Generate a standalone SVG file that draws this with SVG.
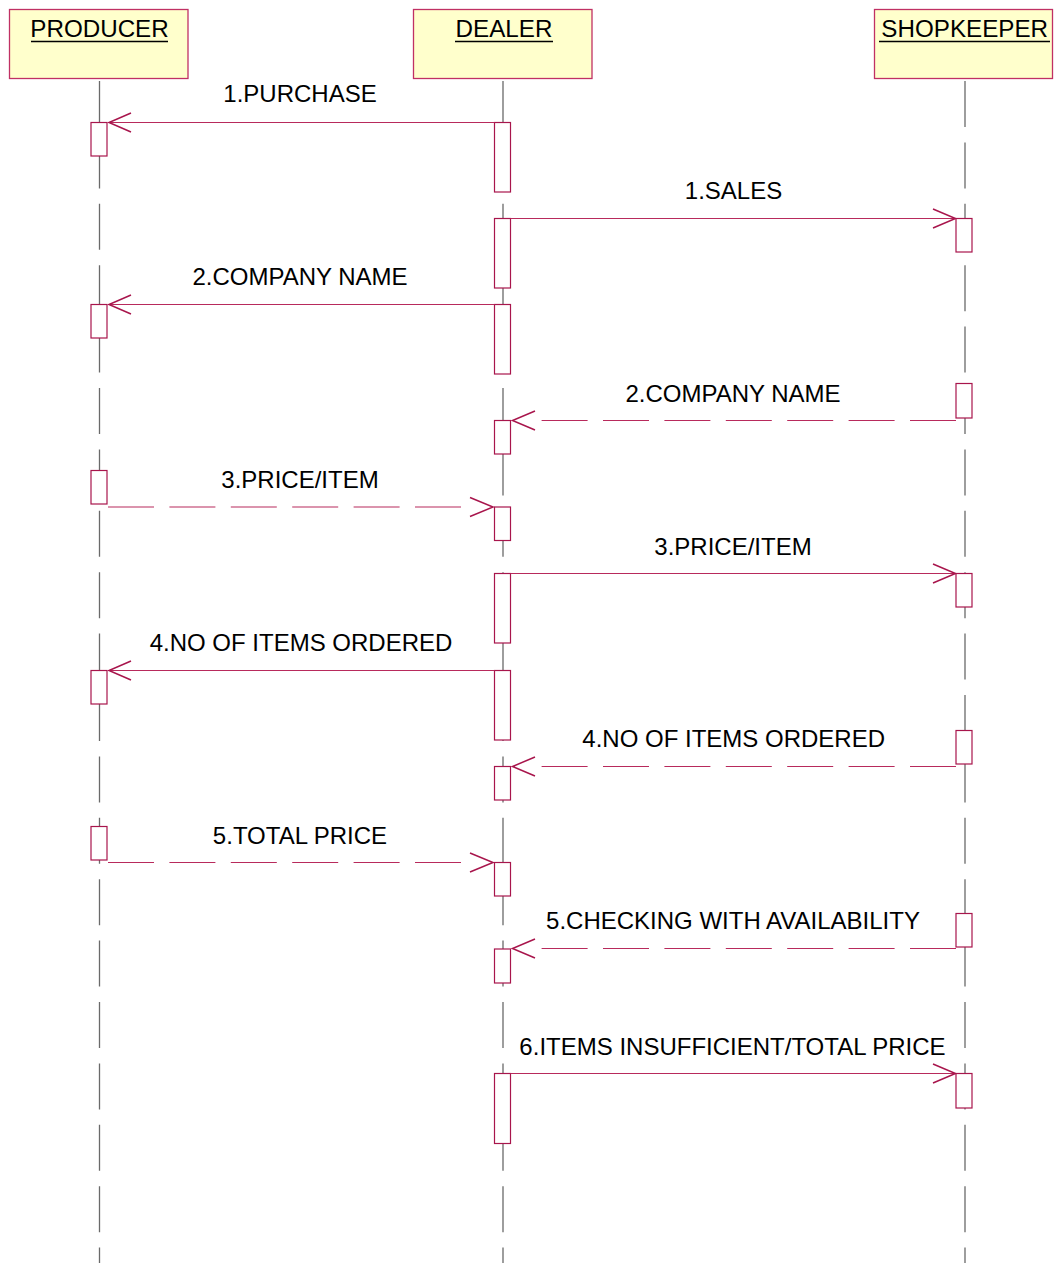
<svg xmlns="http://www.w3.org/2000/svg" width="1054" height="1263" viewBox="0 0 1054 1263">
<style>
.hdr{fill:#FFFFCC;stroke:#C03064;stroke-width:1.3}
.hl{font-family:"Liberation Sans",Arial,sans-serif;font-size:24.2px;fill:#000;text-anchor:middle}
.ul{stroke:#000;stroke-width:1.7}
.life{stroke:#6a6a6a;stroke-width:1.3;stroke-dasharray:46 15.4;fill:none}
.act{fill:#fff;stroke:#A8154C;stroke-width:1.2}
.msg{stroke:#B82A5C;stroke-width:1.2;fill:none}
.dash{stroke:#B82A5C;stroke-width:1.2;fill:none;stroke-dasharray:46 15.4}
.head{stroke:#A8154C;stroke-width:1.5;fill:none}
.lbl{font-family:"Liberation Sans",Arial,sans-serif;font-size:24px;fill:#000;text-anchor:middle}
</style>
<rect width="1054" height="1263" fill="#fff"/>
<g id="lifelines">
<line class="life" x1="99.5" y1="81" x2="99.5" y2="1263"/>
<line class="life" x1="503" y1="81" x2="503" y2="1263"/>
<line class="life" x1="965" y1="81" x2="965" y2="1263"/>
</g>
<g id="producer">
<rect class="hdr" x="9.5" y="9.5" width="178.5" height="69"/>
<text class="hl" x="99.5" y="37">PRODUCER</text>
<line class="ul" x1="31" y1="41.5" x2="168" y2="41.5"/>
<rect class="act" x="91" y="122.5" width="16" height="33.5"/>
<rect class="act" x="91" y="304.5" width="16" height="33.5"/>
<rect class="act" x="91" y="470.5" width="16" height="33.5"/>
<rect class="act" x="91" y="670.5" width="16" height="33.5"/>
<rect class="act" x="91" y="826.5" width="16" height="33.5"/>
</g>
<g id="dealer">
<rect class="hdr" x="413.5" y="9.5" width="178.5" height="69"/>
<text class="hl" x="504" y="37">DEALER</text>
<line class="ul" x1="455" y1="41.5" x2="553" y2="41.5"/>
<rect class="act" x="494.5" y="122.5" width="16" height="69.5"/>
<rect class="act" x="494.5" y="218.5" width="16" height="69.5"/>
<rect class="act" x="494.5" y="304.5" width="16" height="69.5"/>
<rect class="act" x="494.5" y="420.5" width="16" height="33.5"/>
<rect class="act" x="494.5" y="507" width="16" height="33.5"/>
<rect class="act" x="494.5" y="573.5" width="16" height="69.5"/>
<rect class="act" x="494.5" y="670.5" width="16" height="69.5"/>
<rect class="act" x="494.5" y="766.5" width="16" height="33.5"/>
<rect class="act" x="494.5" y="862.5" width="16" height="33.5"/>
<rect class="act" x="494.5" y="949" width="16" height="34"/>
<rect class="act" x="494.5" y="1073.5" width="16" height="70"/>
</g>
<g id="shopkeeper">
<rect class="hdr" x="874.5" y="9.5" width="178" height="69"/>
<text class="hl" x="964.7" y="37">SHOPKEEPER</text>
<line class="ul" x1="879" y1="41.5" x2="1050" y2="41.5"/>
<rect class="act" x="956" y="218.5" width="16" height="33.5"/>
<rect class="act" x="956" y="383.5" width="16" height="34.5"/>
<rect class="act" x="956" y="573.5" width="16" height="33.5"/>
<rect class="act" x="956" y="730.5" width="16" height="33.5"/>
<rect class="act" x="956" y="913.5" width="16" height="33.5"/>
<rect class="act" x="956" y="1073.5" width="16" height="34.5"/>
</g>
<g id="connectors">
<line class="msg" x1="494.5" y1="122.5" x2="108" y2="122.5"/>
<polyline class="head" points="131,113 109,122.5 131,132"/>
<text class="lbl" x="300" y="102">1.PURCHASE</text>
<line class="msg" x1="510.5" y1="218.5" x2="955" y2="218.5"/>
<polyline class="head" points="933,209 955.5,218.5 933,228"/>
<text class="lbl" x="733.5" y="199.3">1.SALES</text>
<line class="msg" x1="494.5" y1="304.5" x2="108" y2="304.5"/>
<polyline class="head" points="131,295 109,304.5 131,314"/>
<text class="lbl" x="300" y="285">2.COMPANY NAME</text>
<line class="dash" x1="956" y1="420.5" x2="541" y2="420.5"/>
<polyline class="head" points="535,411 512.5,420.5 535,430"/>
<text class="lbl" x="733" y="401.7">2.COMPANY NAME</text>
<line class="dash" x1="108" y1="507" x2="462" y2="507"/>
<polyline class="head" points="470,497.5 493,507 470,516.5"/>
<text class="lbl" x="300" y="487.5">3.PRICE/ITEM</text>
<line class="msg" x1="510.5" y1="573.5" x2="955" y2="573.5"/>
<polyline class="head" points="933,564 955.5,573.5 933,583"/>
<text class="lbl" x="733" y="555.3">3.PRICE/ITEM</text>
<line class="msg" x1="494.5" y1="670.5" x2="108" y2="670.5"/>
<polyline class="head" points="131,661 109,670.5 131,680"/>
<text class="lbl" x="301" y="650.7">4.NO OF ITEMS ORDERED</text>
<line class="dash" x1="956" y1="766.5" x2="541" y2="766.5"/>
<polyline class="head" points="535,757 512.5,766.5 535,776"/>
<text class="lbl" x="733.7" y="746.7">4.NO OF ITEMS ORDERED</text>
<line class="dash" x1="108" y1="862.5" x2="462" y2="862.5"/>
<polyline class="head" points="470,853 493,862.5 470,872"/>
<text class="lbl" x="300" y="844">5.TOTAL PRICE</text>
<line class="dash" x1="956" y1="948.5" x2="541" y2="948.5"/>
<polyline class="head" points="535,939 512.5,948.5 535,958"/>
<text class="lbl" x="733" y="929.3">5.CHECKING WITH AVAILABILITY</text>
<line class="msg" x1="510.5" y1="1073.5" x2="955" y2="1073.5"/>
<polyline class="head" points="933,1064 955.5,1073.5 933,1083"/>
<text class="lbl" x="732.5" y="1055">6.ITEMS INSUFFICIENT/TOTAL PRICE</text>
</g>
</svg>
